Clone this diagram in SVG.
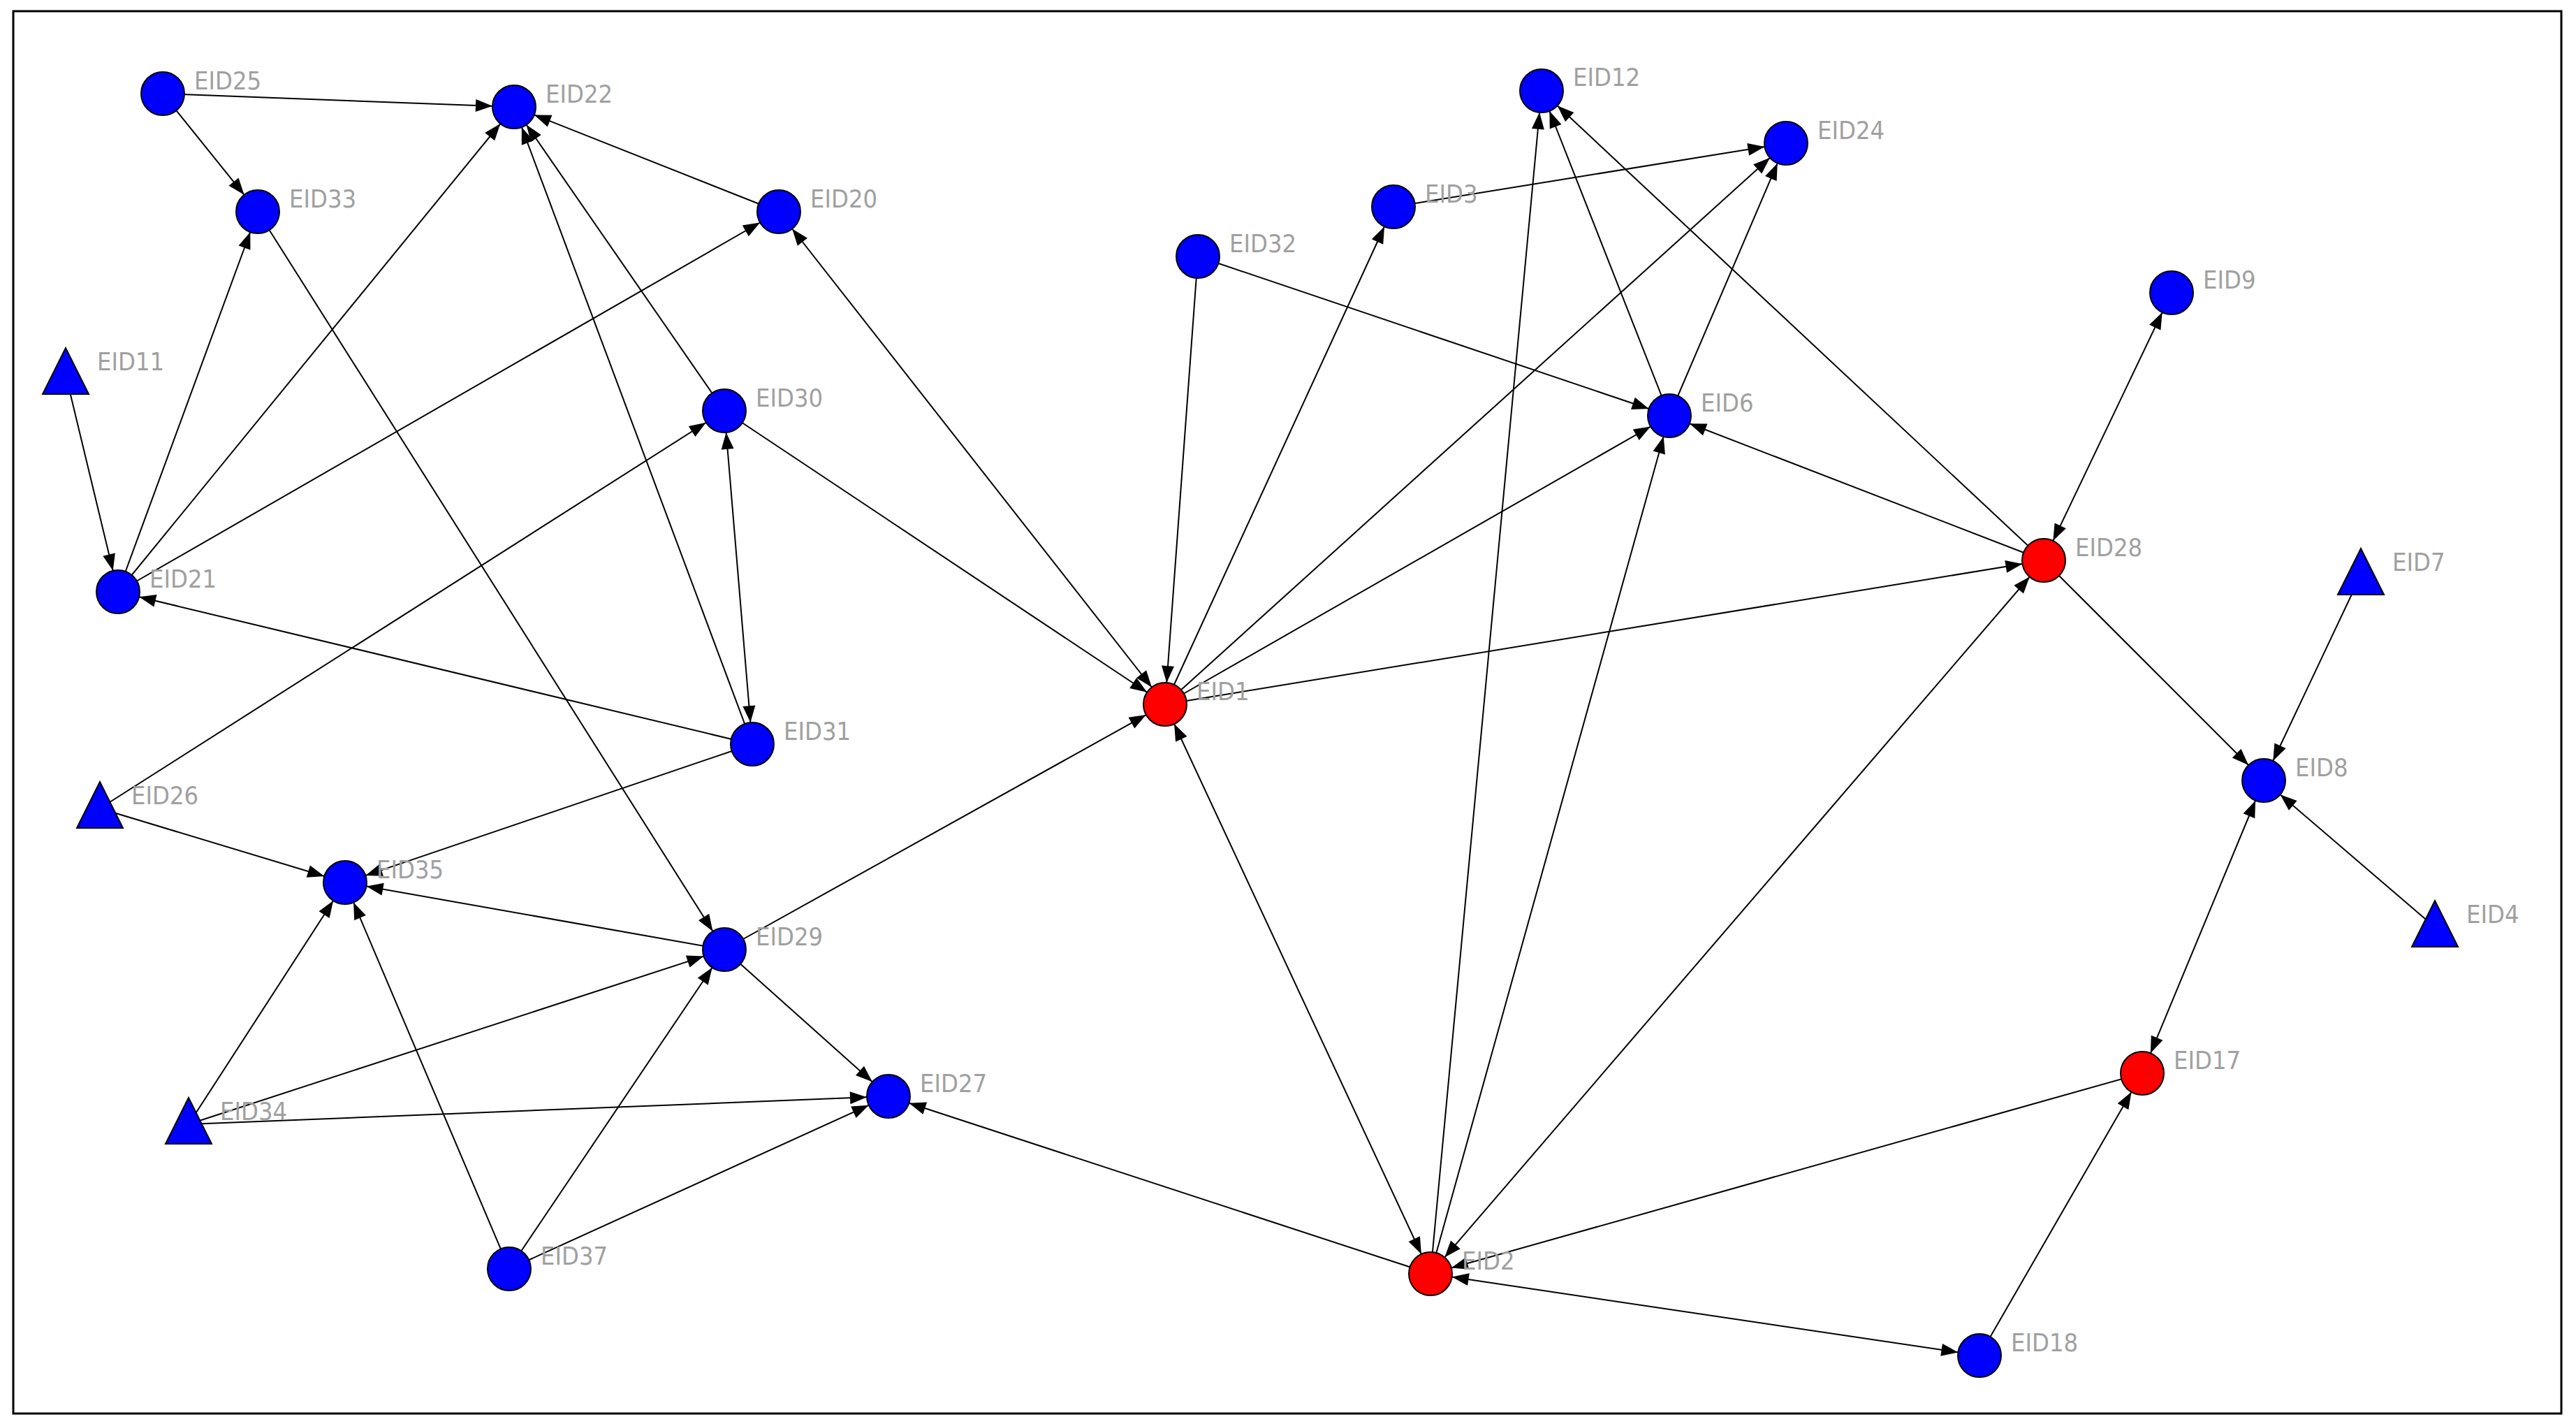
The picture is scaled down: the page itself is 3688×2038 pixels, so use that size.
<svg xmlns="http://www.w3.org/2000/svg" width="3688" height="2038" viewBox="0 0 3688 2038">
<style>
.e line{stroke:#000;stroke-width:2;marker-end:url(#a)}
.e line.b{marker-start:url(#a)}
.n{fill:#0000ff;stroke:#000;stroke-width:2}
.r{fill:#ff0000;stroke:#000;stroke-width:2}
text{font-family:"DejaVu Sans Condensed","Liberation Sans",sans-serif;font-size:36px;fill:#a0a0a0}
</style>
<defs>
<marker id="a" markerUnits="userSpaceOnUse" viewBox="-60 -12 62 24" refX="0" refY="0" markerWidth="62" markerHeight="24" orient="auto-start-reverse">
<path d="M-31,0 L-55,-9 L-55,9 Z" fill="#000"/>
</marker>
</defs>
<rect x="0" y="0" width="3688" height="2038" fill="#fff"/>
<rect x="19" y="16" width="3648" height="2007" fill="none" stroke="#000" stroke-width="3"/>
<g class="e" id="connectors">
<line x1="233" y1="134" x2="736" y2="153"/>
<line x1="233" y1="134" x2="369" y2="303"/>
<line x1="1115" y1="303" x2="736" y2="153"/>
<line x1="1037" y1="588" x2="736" y2="153"/>
<line x1="1077" y1="1065" x2="736" y2="153"/>
<line x1="169" y1="847" x2="736" y2="153"/>
<line x1="169" y1="847" x2="369" y2="303"/>
<line x1="169" y1="847" x2="1115" y2="303"/>
<line x1="94" y1="536" x2="169" y2="847"/>
<line class="b" x1="1037" y1="588" x2="1077" y2="1065"/>
<line x1="1037" y1="588" x2="1668" y2="1008"/>
<line x1="1077" y1="1065" x2="169" y2="847"/>
<line x1="1077" y1="1065" x2="494" y2="1263"/>
<line x1="143" y1="1157" x2="1037" y2="588"/>
<line x1="143" y1="1157" x2="494" y2="1263"/>
<line x1="1037" y1="1359" x2="494" y2="1263"/>
<line x1="1037" y1="1359" x2="1668" y2="1008"/>
<line x1="1037" y1="1359" x2="1272" y2="1569"/>
<line x1="369" y1="303" x2="1037" y2="1359"/>
<line x1="270" y1="1609" x2="494" y2="1263"/>
<line x1="270" y1="1609" x2="1037" y2="1359"/>
<line x1="270" y1="1609" x2="1272" y2="1569"/>
<line x1="729" y1="1816" x2="494" y2="1263"/>
<line x1="729" y1="1816" x2="1037" y2="1359"/>
<line x1="729" y1="1816" x2="1272" y2="1569"/>
<line class="b" x1="1115" y1="303" x2="1668" y2="1008"/>
<line x1="1715" y1="367" x2="1668" y2="1008"/>
<line x1="1715" y1="367" x2="2390" y2="595"/>
<line x1="1668" y1="1008" x2="1995" y2="296"/>
<line x1="1668" y1="1008" x2="2557" y2="205"/>
<line x1="1668" y1="1008" x2="2390" y2="595"/>
<line x1="1668" y1="1008" x2="2926" y2="802"/>
<line x1="1995" y1="296" x2="2557" y2="205"/>
<line x1="2390" y1="595" x2="2207" y2="130"/>
<line x1="2390" y1="595" x2="2557" y2="205"/>
<line x1="2926" y1="802" x2="2207" y2="130"/>
<line x1="2926" y1="802" x2="2390" y2="595"/>
<line class="b" x1="2926" y1="802" x2="3109" y2="419"/>
<line x1="2926" y1="802" x2="3241" y2="1117"/>
<line x1="2048" y1="1823" x2="2207" y2="130"/>
<line x1="2048" y1="1823" x2="2390" y2="595"/>
<line class="b" x1="2048" y1="1823" x2="1668" y2="1008"/>
<line class="b" x1="2048" y1="1823" x2="2926" y2="802"/>
<line x1="2048" y1="1823" x2="1272" y2="1569"/>
<line x1="3067" y1="1536" x2="2048" y2="1823"/>
<line class="b" x1="2048" y1="1823" x2="2834" y2="1940"/>
<line x1="2834" y1="1940" x2="3067" y2="1536"/>
<line x1="3380" y1="823" x2="3241" y2="1117"/>
<line x1="3486" y1="1327" x2="3241" y2="1117"/>
<line class="b" x1="3241" y1="1117" x2="3067" y2="1536"/>
</g>
<g id="EID25"><circle class="n" cx="233" cy="134" r="31"/><text x="278" y="128">EID25</text></g>
<g id="EID22"><circle class="n" cx="736" cy="153" r="31"/><text x="781" y="147">EID22</text></g>
<g id="EID33"><circle class="n" cx="369" cy="303" r="31"/><text x="414" y="297">EID33</text></g>
<g id="EID20"><circle class="n" cx="1115" cy="303" r="31"/><text x="1160" y="297">EID20</text></g>
<g id="EID11"><polygon class="n" points="94,498 61,564 127,564"/><text x="139" y="530">EID11</text></g>
<g id="EID30"><circle class="n" cx="1037" cy="588" r="31"/><text x="1082" y="582">EID30</text></g>
<g id="EID21"><circle class="n" cx="169" cy="847" r="31"/><text x="214" y="841">EID21</text></g>
<g id="EID31"><circle class="n" cx="1077" cy="1065" r="31"/><text x="1122" y="1059">EID31</text></g>
<g id="EID26"><polygon class="n" points="143,1119 110,1185 176,1185"/><text x="188" y="1151">EID26</text></g>
<g id="EID35"><circle class="n" cx="494" cy="1263" r="31"/><text x="539" y="1257">EID35</text></g>
<g id="EID29"><circle class="n" cx="1037" cy="1359" r="31"/><text x="1082" y="1353">EID29</text></g>
<g id="EID34"><polygon class="n" points="270,1571 237,1637 303,1637"/><text x="315" y="1603">EID34</text></g>
<g id="EID27"><circle class="n" cx="1272" cy="1569" r="31"/><text x="1317" y="1563">EID27</text></g>
<g id="EID37"><circle class="n" cx="729" cy="1816" r="31"/><text x="774" y="1810">EID37</text></g>
<g id="EID32"><circle class="n" cx="1715" cy="367" r="31"/><text x="1760" y="361">EID32</text></g>
<g id="EID3"><circle class="n" cx="1995" cy="296" r="31"/><text x="2040" y="290">EID3</text></g>
<g id="EID12"><circle class="n" cx="2207" cy="130" r="31"/><text x="2252" y="123">EID12</text></g>
<g id="EID24"><circle class="n" cx="2557" cy="205" r="31"/><text x="2602" y="199">EID24</text></g>
<g id="EID6"><circle class="n" cx="2390" cy="595" r="31"/><text x="2435" y="589">EID6</text></g>
<g id="EID1"><circle class="r" cx="1668" cy="1008" r="31"/><text x="1713" y="1002">EID1</text></g>
<g id="EID2"><circle class="r" cx="2048" cy="1823" r="31"/><text x="2093" y="1817">EID2</text></g>
<g id="EID9"><circle class="n" cx="3109" cy="419" r="31"/><text x="3154" y="413">EID9</text></g>
<g id="EID28"><circle class="r" cx="2926" cy="802" r="31"/><text x="2971" y="796">EID28</text></g>
<g id="EID7"><polygon class="n" points="3380,785 3347,851 3413,851"/><text x="3425" y="817">EID7</text></g>
<g id="EID8"><circle class="n" cx="3241" cy="1117" r="31"/><text x="3286" y="1111">EID8</text></g>
<g id="EID4"><polygon class="n" points="3486,1289 3453,1355 3519,1355"/><text x="3531" y="1321">EID4</text></g>
<g id="EID17"><circle class="r" cx="3067" cy="1536" r="31"/><text x="3112" y="1530">EID17</text></g>
<g id="EID18"><circle class="n" cx="2834" cy="1940" r="31"/><text x="2879" y="1934">EID18</text></g>
</svg>
